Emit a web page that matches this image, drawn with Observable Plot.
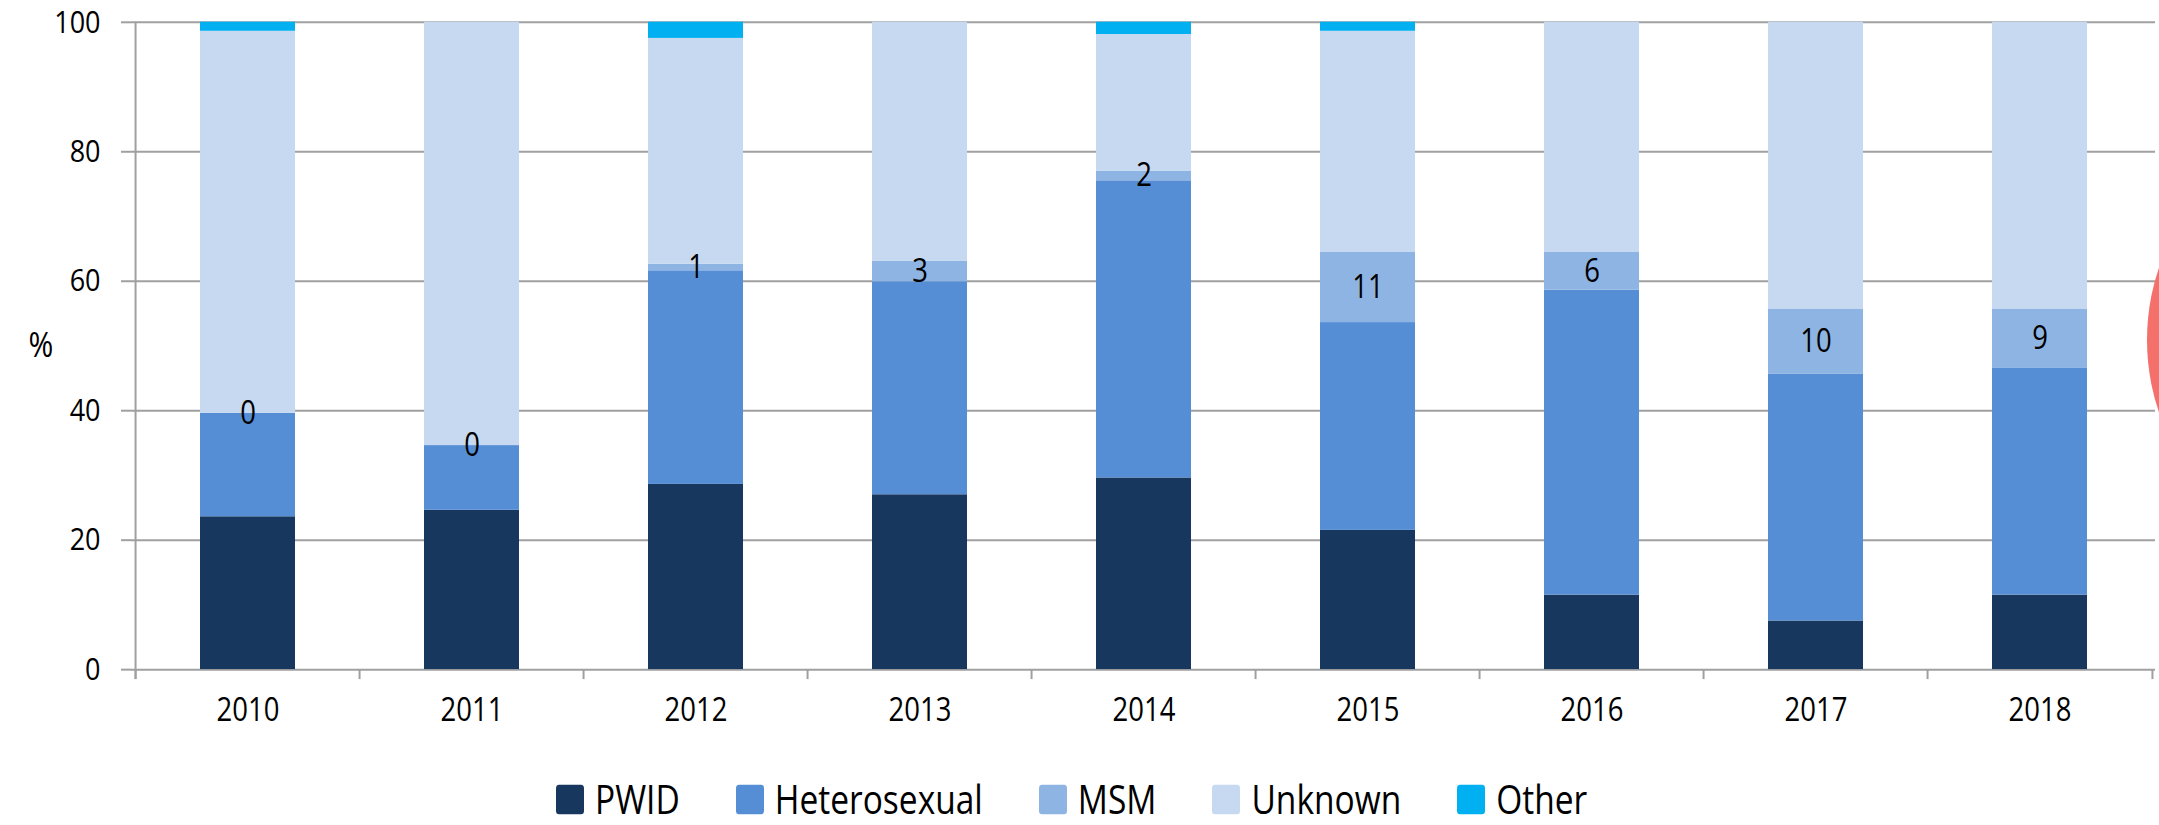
<!DOCTYPE html>
<html>
<head>
<meta charset="utf-8">
<script src="https://cdn.jsdelivr.net/npm/d3@7"></script>
<script src="https://cdn.jsdelivr.net/npm/@observablehq/plot@0.6"></script>
<style>
  html, body { margin: 0; padding: 0; background: #fff; }
  body { width: 2159px; height: 825px; overflow: hidden; position: relative; font-family: "Open Sans", sans-serif; }
  #wrap { position: absolute; left: 0; top: 0; width: 2159px; height: 698px; transform: scaleY(1.18); transform-origin: 0 0; }
  #legend { position: absolute; left: 556px; top: 658px; height: 38px; display: flex; align-items: center; }
  .item { display: flex; align-items: center; margin-right: 56px; font-size: 33.5px; color: #000; line-height: 38px; height: 38px; }
  .sw { width: 28px; height: 25px; border-radius: 3px; margin-right: 11px; }
  #blob { position: absolute; left: 2147px; top: 115px; width: 450px; height: 450px; border-radius: 50%; background: #f4706a; }
</style>
</head>
<body>
<div id="wrap">
  <div id="chart"></div>
  <div id="legend"></div>
</div>
<div id="blob"></div>
<script>
// ---- data (percent of cases by transmission category) ----
const years = ["2010", "2011", "2012", "2013", "2014", "2015", "2016", "2017", "2018"];
const categories = ["PWID", "Heterosexual", "MSM", "Unknown", "Other"];
const pwid = [23.6, 24.6, 28.6, 27.0, 29.6, 21.5, 11.5, 7.5, 11.5];
const hetero = [16.0, 10.0, 33.0, 32.9, 45.9, 32.1, 47.1, 38.1, 35.1];
const msm = [0, 0, 1.0, 3.2, 1.5, 10.9, 5.9, 10.1, 9.1];
const unknown = [59.0, 65.4, 34.9, 36.9, 21.1, 34.1, 35.5, 44.3, 44.3];
const other = [1.4, 0, 2.5, 0, 1.9, 1.4, 0, 0, 0];
const msmLabels = ["0", "0", "1", "3", "2", "11", "6", "10", "9"];
const yTicks = [0, 20, 40, 60, 80, 100];
const colors = ["#17375e", "#558ed5", "#8eb4e3", "#c6d9f1", "#00b0f0"];

const seriesByCat = {PWID: pwid, Heterosexual: hetero, MSM: msm, Unknown: unknown, Other: other};
const rows = years.flatMap((yr, i) => categories.map(c => ({
  year: yr, category: c, value: seriesByCat[c][i], label: c === "MSM" ? msmLabels[i] : null
})));

const W = 2159, H = 640, mL = 131, mR = 4, mT = 18.4, mB = 73;
const step = (W - mL - mR) / years.length;
const grey = "#a0a0a0";

const chart = Plot.plot({
  width: W, height: H,
  marginLeft: mL, marginRight: mR, marginTop: mT, marginBottom: mB,
  style: {fontFamily: '"Open Sans", sans-serif', fontSize: "27px", color: "#000", background: "transparent", overflow: "visible"},
  x: {domain: years, paddingInner: 0.578, paddingOuter: 0.289, label: null},
  y: {domain: [0, 100], label: null},
  color: {domain: categories, range: colors},
  marks: [
    Plot.ruleY(yTicks, {stroke: grey, strokeWidth: 1.7}),
    Plot.barY(rows, {x: "year", y: "value", fill: "category"}),
    Plot.text(rows, Plot.stackY({x: "year", y: "value", z: "category", text: "label", fontSize: 27.5, fill: "#000"})),
    Plot.ruleX(years, {x: d => d, dx: -step / 2, y1: 0, y2: 0, insetBottom: -8.5, stroke: grey, strokeWidth: 2}),
    Plot.ruleX([years[years.length - 1]], {x: d => d, dx: step / 2, y1: 0, y2: 0, insetBottom: -8.5, stroke: grey, strokeWidth: 2}),
    Plot.ruleX([years[0]], {x: d => d, dx: -step / 2, y1: 100, y2: 0, insetBottom: -8.5, stroke: grey, strokeWidth: 2}),
    Plot.axisY(yTicks, {tickSize: 10, tickPadding: 21, stroke: grey, strokeWidth: 1.7, fontSize: 27, label: null}),
    Plot.axisX({tickSize: 0, tickPadding: 24, fontSize: 27.5, label: null}),
    Plot.text(["%"], {text: d => d, frameAnchor: "left", dx: -103, fontSize: 30, fill: "#000"})
  ]
});
document.getElementById("chart").appendChild(chart);

const legend = document.getElementById("legend");
categories.forEach((c, i) => {
  const item = document.createElement("div");
  item.className = "item";
  const sw = document.createElement("span");
  sw.className = "sw";
  sw.style.background = colors[i];
  const t = document.createElement("span");
  t.textContent = c;
  item.appendChild(sw);
  item.appendChild(t);
  legend.appendChild(item);
});
</script>
</body>
</html>
